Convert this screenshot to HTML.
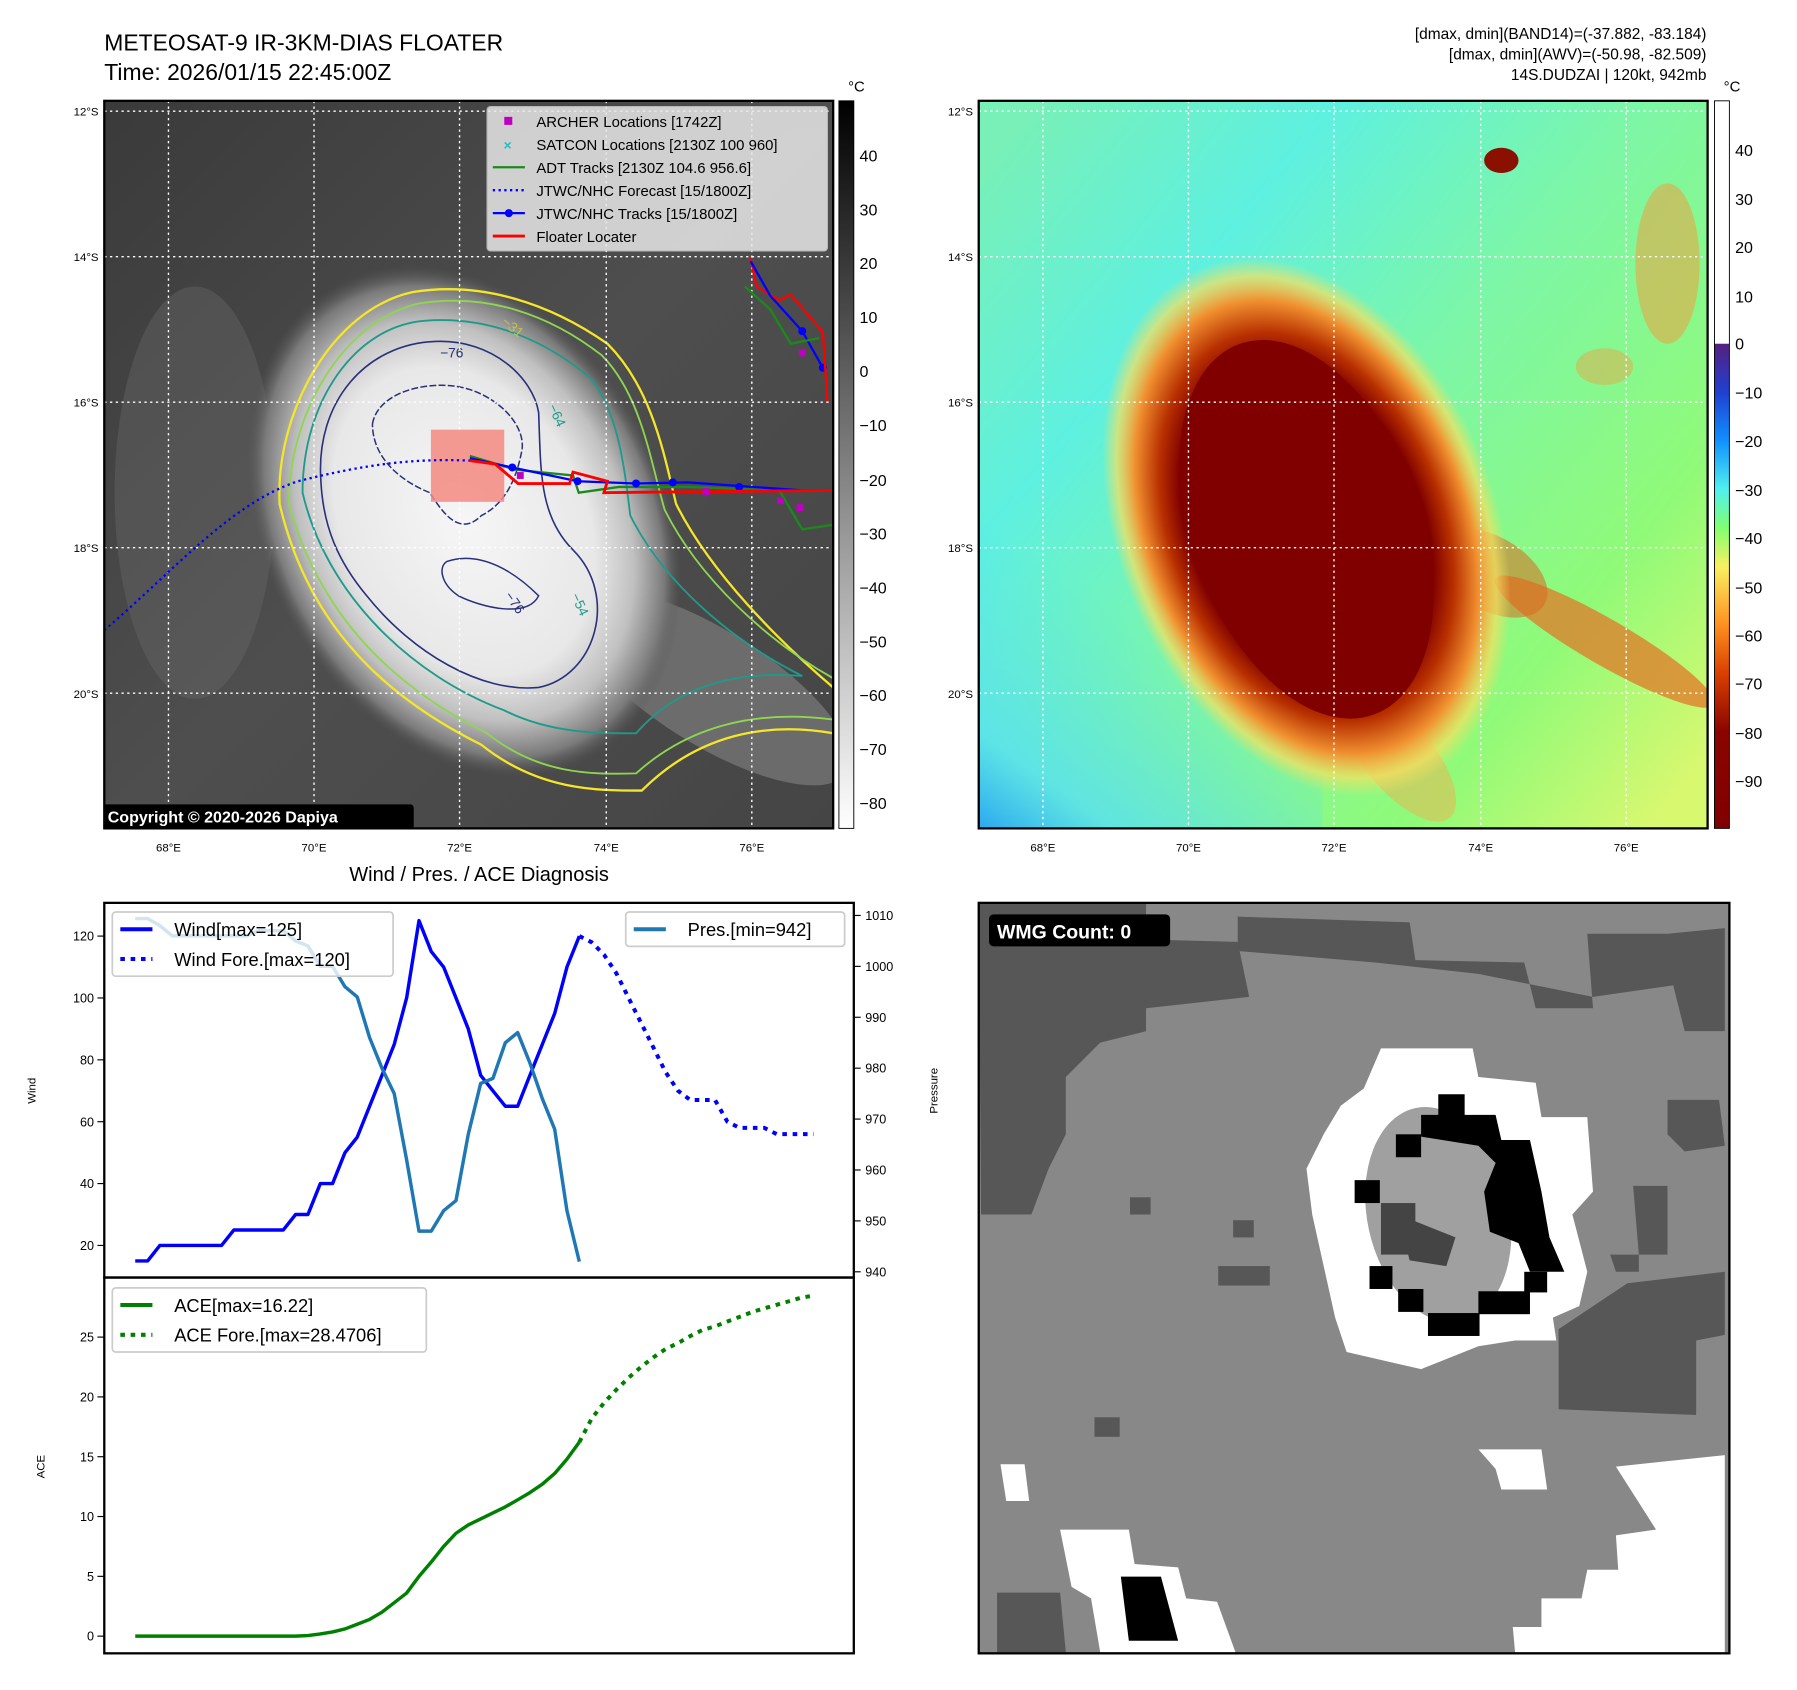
<!DOCTYPE html>
<html><head><meta charset="utf-8"><style>
html,body{margin:0;padding:0;background:#fff;}
svg{display:block;font-family:"Liberation Sans","DejaVu Sans",sans-serif;}
</style></head><body>
<svg width="1797" height="1690" viewBox="0 0 1568 1475" preserveAspectRatio="none" xmlns="http://www.w3.org/2000/svg">
<defs>
<radialGradient id="cloud" cx="0.5" cy="0.5" r="0.5">
<stop offset="0" stop-color="#f6f6f6"/><stop offset="0.6" stop-color="#e8e8e8"/><stop offset="0.78" stop-color="#c0c0c0"/><stop offset="0.92" stop-color="#7a7a7a"/><stop offset="1" stop-color="#555" stop-opacity="0"/>
</radialGradient>
<linearGradient id="bgIR" x1="0" y1="0" x2="1" y2="1">
<stop offset="0" stop-color="#3a3a3a"/><stop offset="0.5" stop-color="#4e4e4e"/><stop offset="1" stop-color="#454545"/>
</linearGradient>
<linearGradient id="bgJet" x1="0" y1="0.1" x2="1" y2="0.9">
<stop offset="0" stop-color="#78f0b8"/><stop offset="0.25" stop-color="#5ef0e0"/><stop offset="0.5" stop-color="#7cf6a8"/><stop offset="0.8" stop-color="#90fa78"/><stop offset="1" stop-color="#d8f870"/>
</linearGradient>
<linearGradient id="bgJet2" x1="0" y1="1" x2="0.4" y2="0.4">
<stop offset="0" stop-color="#2aa8f0"/><stop offset="0.3" stop-color="#58e0f0" stop-opacity="0.8"/><stop offset="1" stop-color="#58e0f0" stop-opacity="0"/>
</linearGradient>
<radialGradient id="core" cx="0.5" cy="0.5" r="0.5">
<stop offset="0" stop-color="#800000"/><stop offset="0.62" stop-color="#800000"/><stop offset="0.72" stop-color="#b83000"/><stop offset="0.84" stop-color="#f09030"/><stop offset="0.93" stop-color="#f8e060" stop-opacity="0.7"/><stop offset="1" stop-color="#f8e060" stop-opacity="0"/>
</radialGradient>
<linearGradient id="cbGray" x1="0" y1="0" x2="0" y2="1"><stop offset="0" stop-color="#000"/><stop offset="1" stop-color="#fff"/></linearGradient>
<linearGradient id="cbJet" x1="0" y1="0" x2="0" y2="1">
<stop offset="0" stop-color="#55207f"/><stop offset="0.1" stop-color="#2040d0"/><stop offset="0.2" stop-color="#1090ff"/><stop offset="0.3" stop-color="#50f0f0"/><stop offset="0.38" stop-color="#80ff70"/><stop offset="0.46" stop-color="#f8f060"/><stop offset="0.58" stop-color="#ff9020"/><stop offset="0.68" stop-color="#d84000"/><stop offset="0.8" stop-color="#8a0500"/><stop offset="1" stop-color="#800000"/>
</linearGradient>
<clipPath id="clipL"><rect x="91" y="88" width="636" height="635"/></clipPath>
<clipPath id="clipR"><rect x="854" y="88" width="636" height="635"/></clipPath>
<clipPath id="clipW"><rect x="854" y="788" width="655" height="655"/></clipPath>
</defs>

<text x="91" y="44" font-size="20">METEOSAT-9 IR-3KM-DIAS FLOATER</text>
<text x="91" y="70" font-size="20">Time: 2026/01/15 22:45:00Z</text>
<g font-size="13.5" text-anchor="end">
<text x="1489" y="34">[dmax, dmin](BAND14)=(-37.882, -83.184)</text>
<text x="1489" y="52">[dmax, dmin](AWV)=(-50.98, -82.509)</text>
<text x="1489" y="70">14S.DUDZAI | 120kt, 942mb</text>
</g>

<!-- LEFT MAP -->
<g clip-path="url(#clipL)">
<rect x="91" y="88" width="636" height="635" fill="url(#bgIR)"/>
<ellipse cx="170" cy="430" rx="70" ry="180" fill="#6a6a6a" opacity="0.4"/>
<ellipse cx="620" cy="600" rx="140" ry="50" fill="#909090" opacity="0.5" transform="rotate(32 620 600)"/>
<ellipse cx="405" cy="455" rx="175" ry="235" fill="url(#cloud)" transform="rotate(-28 405 455)"/>
<path d="M244,440 C240,360 290,270 360,255 C420,245 480,265 530,300 C570,340 580,400 590,440 C620,500 680,560 727,600 L727,640 C670,630 610,640 560,690 C520,690 470,690 420,650 C340,610 270,550 244,440 Z" fill="none" stroke="#f5e62a" stroke-width="2"/>
<path d="M252,440 C252,360 300,280 365,265 C425,255 480,275 525,310 C560,345 568,405 580,445 C610,505 670,560 727,592 L727,628 C665,620 605,630 555,675 C515,676 470,676 425,640 C345,600 280,540 252,440 Z" fill="none" stroke="#8fd650" stroke-width="1.6"/>
<path d="M264,430 C264,350 310,285 370,280 C430,275 480,300 515,330 C540,360 545,410 550,450 C580,510 640,560 700,590 C640,585 590,600 555,640 C520,640 480,640 440,620 C360,590 285,520 264,430 Z" fill="none" stroke="#1f9a8a" stroke-width="1.6"/>
<path d="M280,420 C275,350 320,300 380,298 C430,296 465,330 470,360 C472,410 470,450 500,480 C540,520 520,590 470,600 C420,605 360,570 320,520 C295,490 282,460 280,420 Z" fill="none" stroke="#2a2f7a" stroke-width="1.4"/>
<path d="M325,370 C330,340 380,330 410,340 C440,350 460,375 455,395 C450,420 440,440 420,450 C400,470 385,445 375,430 C350,420 325,400 325,370 Z" fill="none" stroke="#2a2f7a" stroke-width="1.3" stroke-dasharray="6 2"/>
<path d="M390,490 C420,480 450,500 470,520 C460,540 420,530 400,520 C385,510 382,495 390,490 Z" fill="none" stroke="#2a2f7a" stroke-width="1.3"/>
<g font-size="12" fill="#2a2f7a"><text x="384" y="312">−76</text><text x="440" y="520" transform="rotate(55 440 520)">−76</text></g>
<g font-size="12" fill="#1f9a8a"><text x="478" y="355" transform="rotate(65 478 355)">−64</text><text x="498" y="520" transform="rotate(65 498 520)">−54</text></g>
<text x="437" y="282" font-size="12" fill="#c8c040" transform="rotate(40 437 282)">−31</text>
<g stroke="#fff" stroke-width="1.2" stroke-dasharray="2 3">
<line x1="91" y1="97" x2="727" y2="97"/><line x1="91" y1="224" x2="727" y2="224"/><line x1="91" y1="351" x2="727" y2="351"/><line x1="91" y1="478" x2="727" y2="478"/><line x1="91" y1="605" x2="727" y2="605"/>
<line x1="147" y1="88" x2="147" y2="723"/><line x1="274" y1="88" x2="274" y2="723"/><line x1="401" y1="88" x2="401" y2="723"/><line x1="529" y1="88" x2="529" y2="723"/><line x1="656" y1="88" x2="656" y2="723"/>
</g>
<rect x="376" y="375" width="64" height="63" fill="#f48a80" opacity="0.85"/>
<path d="M91,550 C150,500 200,440 260,420 C320,405 360,400 410,402" fill="none" stroke="#0000ff" stroke-width="2" stroke-dasharray="2 3"/>
<path d="M410,398 L450,410 L500,415 L505,430 L540,425 L600,425 L680,428 L700,462 L727,458" fill="none" stroke="#1a8a1a" stroke-width="2"/>
<path d="M410,400 L447,408 L504,420 L555,422 L600,421 L700,428 L727,428" fill="none" stroke="#0000ff" stroke-width="2"/>
<g fill="#0000ff"><circle cx="447" cy="408" r="3.5"/><circle cx="504" cy="420" r="3.5"/><circle cx="555" cy="422" r="3.5"/><circle cx="587" cy="421" r="3.5"/><circle cx="645" cy="425" r="3.5"/><circle cx="700" cy="289" r="3.5"/><circle cx="718" cy="321" r="3.5"/></g>
<path d="M410,402 L432,405 L452,422 L497,422 L500,412 L530,420 L527,430 L727,428" fill="none" stroke="#ff0000" stroke-width="2.5"/>
<path d="M655,225 L660,250 L680,262 L690,257 L718,290 L722,350" fill="none" stroke="#ff0000" stroke-width="2"/>
<path d="M655,228 L672,258 L700,289 L718,321" fill="none" stroke="#0000ff" stroke-width="2"/>
<path d="M650,250 L672,270 L690,300 L715,295" fill="none" stroke="#1a8a1a" stroke-width="2"/>
<g fill="#c000c0"><rect x="451" y="412" width="6" height="6"/><rect x="613" y="426" width="6" height="6"/><rect x="678" y="434" width="6" height="6"/><rect x="695" y="440" width="6" height="6"/><rect x="697" y="305" width="6" height="6"/></g>
<g>
<rect x="425" y="93" width="297" height="126" rx="3" fill="#e8e8e8" opacity="0.85" stroke="#ccc"/>
<rect x="440" y="102" width="7" height="7" fill="#c000c0"/>
<text x="443" y="131" font-size="12" fill="#20c0c0" font-weight="bold" text-anchor="middle">×</text>
<line x1="430" y1="146" x2="458" y2="146" stroke="#1a8a1a" stroke-width="2"/>
<line x1="430" y1="166" x2="458" y2="166" stroke="#0000ff" stroke-width="2" stroke-dasharray="2 3"/>
<line x1="430" y1="186" x2="458" y2="186" stroke="#0000ff" stroke-width="2"/><circle cx="444" cy="186" r="3.5" fill="#0000ff"/>
<line x1="430" y1="206" x2="458" y2="206" stroke="#ff0000" stroke-width="2.5"/>
<g font-size="13" fill="#000">
<text x="468" y="111">ARCHER Locations [1742Z]</text>
<text x="468" y="131">SATCON Locations [2130Z 100 960]</text>
<text x="468" y="151">ADT Tracks [2130Z 104.6 956.6]</text>
<text x="468" y="171">JTWC/NHC Forecast [15/1800Z]</text>
<text x="468" y="191">JTWC/NHC Tracks [15/1800Z]</text>
<text x="468" y="211">Floater Locater</text>
</g>
</g>
<rect x="89" y="702" width="272" height="22" rx="3" fill="#000"/>
<text x="94" y="718" font-size="14" font-weight="bold" fill="#fff">Copyright © 2020-2026 Dapiya</text>
</g>
<rect x="91" y="88" width="636" height="635" fill="none" stroke="#000" stroke-width="2"/>

<g font-size="10" text-anchor="end">
<text x="86" y="101">12°S</text><text x="86" y="228">14°S</text><text x="86" y="355">16°S</text><text x="86" y="482">18°S</text><text x="86" y="609">20°S</text>
</g>
<g font-size="10" text-anchor="middle">
<text x="147" y="743">68°E</text><text x="274" y="743">70°E</text><text x="401" y="743">72°E</text><text x="529" y="743">74°E</text><text x="656" y="743">76°E</text>
</g>
<rect x="732" y="88" width="13" height="635" fill="url(#cbGray)" stroke="#000" stroke-width="0.8"/>
<text x="740" y="80" font-size="13">°C</text>
<g font-size="14">
<text x="750" y="141">40</text><text x="750" y="188">30</text><text x="750" y="235">20</text><text x="750" y="282">10</text><text x="750" y="329">0</text><text x="750" y="376">−10</text><text x="750" y="424">−20</text><text x="750" y="471">−30</text><text x="750" y="518">−40</text><text x="750" y="565">−50</text><text x="750" y="612">−60</text><text x="750" y="659">−70</text><text x="750" y="706">−80</text>
</g>

<!-- RIGHT MAP -->
<g clip-path="url(#clipR)">
<rect x="854" y="88" width="636" height="635" fill="url(#bgJet)"/>
<rect x="854" y="400" width="300" height="323" fill="url(#bgJet2)"/>
<ellipse cx="1455" cy="230" rx="28" ry="70" fill="#f0a040" opacity="0.55"/>
<ellipse cx="1400" cy="320" rx="25" ry="16" fill="#f0a040" opacity="0.45"/>
<ellipse cx="1310" cy="140" rx="15" ry="11" fill="#8a1000"/>
<ellipse cx="1220" cy="660" rx="70" ry="30" fill="#f0b050" opacity="0.5" transform="rotate(50 1220 660)"/>
<ellipse cx="1400" cy="560" rx="110" ry="20" fill="#e07828" opacity="0.75" transform="rotate(30 1400 560)"/>
<ellipse cx="1300" cy="500" rx="55" ry="32" fill="#d86a20" opacity="0.55" transform="rotate(30 1300 500)"/>
<ellipse cx="1140" cy="460" rx="165" ry="245" fill="url(#core)" transform="rotate(-22 1140 460)"/>
<ellipse cx="1140" cy="462" rx="100" ry="172" fill="#800000" transform="rotate(-20 1140 462)"/>
<g stroke="#fff" stroke-width="1.2" stroke-dasharray="2 3">
<line x1="854" y1="97" x2="1490" y2="97"/><line x1="854" y1="224" x2="1490" y2="224"/><line x1="854" y1="351" x2="1490" y2="351"/><line x1="854" y1="478" x2="1490" y2="478"/><line x1="854" y1="605" x2="1490" y2="605"/>
<line x1="910" y1="88" x2="910" y2="723"/><line x1="1037" y1="88" x2="1037" y2="723"/><line x1="1164" y1="88" x2="1164" y2="723"/><line x1="1292" y1="88" x2="1292" y2="723"/><line x1="1419" y1="88" x2="1419" y2="723"/>
</g>
</g>
<rect x="854" y="88" width="636" height="635" fill="none" stroke="#000" stroke-width="2"/>
<g font-size="10" text-anchor="end">
<text x="849" y="101">12°S</text><text x="849" y="228">14°S</text><text x="849" y="355">16°S</text><text x="849" y="482">18°S</text><text x="849" y="609">20°S</text>
</g>
<g font-size="10" text-anchor="middle">
<text x="910" y="743">68°E</text><text x="1037" y="743">70°E</text><text x="1164" y="743">72°E</text><text x="1292" y="743">74°E</text><text x="1419" y="743">76°E</text>
</g>
<rect x="1496" y="88" width="13" height="212" fill="#fff"/>
<rect x="1496" y="300" width="13" height="423" fill="url(#cbJet)"/>
<rect x="1496" y="88" width="13" height="635" fill="none" stroke="#000" stroke-width="0.8"/>
<text x="1504" y="80" font-size="13">°C</text>
<g font-size="14">
<text x="1514" y="136">40</text><text x="1514" y="179">30</text><text x="1514" y="221">20</text><text x="1514" y="264">10</text><text x="1514" y="305">0</text><text x="1514" y="348">−10</text><text x="1514" y="390">−20</text><text x="1514" y="433">−30</text><text x="1514" y="475">−40</text><text x="1514" y="518">−50</text><text x="1514" y="560">−60</text><text x="1514" y="602">−70</text><text x="1514" y="645">−80</text><text x="1514" y="687">−90</text>
</g>

<text x="418" y="769" font-size="17.5" text-anchor="middle">Wind / Pres. / ACE Diagnosis</text>
<g id="chart"></g>

<!-- WMG -->
<g clip-path="url(#clipW)">
<rect x="854" y="788" width="655" height="655" fill="#888"/>
<g fill="#575757">
<polygon points="854,788 1000,788 1000,820 1080,822 1090,870 1000,880 1000,900 960,910 930,940 930,990 915,1020 900,1060 856,1060"/>
<polygon points="1080,800 1230,805 1235,838 1330,840 1340,880 1390,880 1385,815 1455,815 1505,810 1505,900 1470,900 1460,860 1390,870 1290,850 1200,840 1080,830"/>
<polygon points="1360,1160 1420,1120 1505,1110 1505,1165 1480,1170 1480,1235 1360,1230"/>
<polygon points="870,1390 925,1390 930,1442 870,1442"/>
<rect x="986" y="1045" width="18" height="15"/><rect x="1076" y="1065" width="18" height="15"/><rect x="1063" y="1105" width="45" height="17"/><rect x="955" y="1237" width="22" height="17"/>
<polygon points="1455,960 1500,960 1505,1000 1470,1005 1455,990"/><polygon points="1425,1035 1455,1035 1455,1095 1430,1095"/><polygon points="1405,1095 1430,1095 1430,1110 1410,1110"/>
</g>
<polygon fill="#fff" points="1205,915 1285,915 1290,940 1340,945 1345,975 1385,975 1390,1040 1372,1060 1385,1110 1378,1140 1355,1150 1358,1170 1322,1170 1290,1175 1240,1195 1175,1180 1165,1150 1145,1060 1140,1020 1155,990 1170,965 1190,950"/>
<ellipse cx="1255" cy="1060" rx="62" ry="95" fill="#a0a0a0" transform="rotate(-12 1255 1060)"/>
<g fill="#000">
<polygon points="1255,955 1278,955 1278,973 1305,973 1310,995 1335,995 1345,1040 1352,1080 1365,1110 1335,1110 1325,1085 1300,1075 1295,1040 1305,1015 1290,1000 1240,992 1240,973 1255,973"/>
<rect x="1218" y="990" width="22" height="20"/><rect x="1182" y="1030" width="22" height="20"/><rect x="1195" y="1105" width="20" height="20"/><rect x="1220" y="1125" width="22" height="20"/><rect x="1246" y="1146" width="45" height="20"/><rect x="1290" y="1127" width="45" height="20"/><rect x="1330" y="1110" width="20" height="18"/>
</g>
<g fill="#444"><rect x="1205" y="1050" width="30" height="45"/><polygon points="1220,1060 1270,1080 1262,1105 1230,1100"/></g>
<g fill="#fff">
<polygon points="873,1278 894,1278 898,1310 878,1310"/>
<polygon points="925,1335 985,1335 990,1365 1028,1368 1035,1395 1062,1398 1078,1442 960,1442 952,1395 935,1385"/>
<polygon points="1290,1265 1345,1265 1350,1300 1310,1300 1305,1282"/>
<polygon points="1410,1280 1505,1270 1505,1442 1322,1442 1320,1420 1345,1420 1345,1395 1380,1395 1385,1370 1412,1370 1410,1340 1445,1335"/>
</g>
<polygon points="978,1376 1013,1376 1028,1432 985,1432" fill="#000"/>
</g>
<rect x="854" y="788" width="655" height="655" fill="none" stroke="#000" stroke-width="2"/>
<rect x="863" y="798" width="158" height="28" rx="4" fill="#000"/>
<text x="870" y="819" font-size="17" font-weight="bold" fill="#fff">WMG Count: 0</text>
</svg>

<script>
const windObs = [15,15,20,20,20,20,20,20,25,25,25,25,25,30,30,40,40,50,55,65,75,85,100,125,115,110,100,90,75,70,65,65,75,85,95,110,120];
const windFore = [120,118,114,108,100,92,84,76,70,67,67,67,60,58,58,58,56,56,56,56];
const presObs = [1009.4,1009.4,1008,1006,1006,1006,1006,1006,1006,1006,1007,1007,1007,1005,1004,1000,1000,996,994,986,980,975,962,948,948,952,954,967,977,978,985,987,981,974,968,952,942];
const aceObs = [0,0,0,0,0,0,0,0,0,0,0,0,0,0,0.05,0.18,0.35,0.6,1.0,1.4,2.0,2.8,3.6,5.0,6.2,7.5,8.6,9.3,9.8,10.3,10.8,11.4,12.0,12.7,13.6,14.8,16.22];
const aceFore = [16.22,18.2,19.5,20.6,21.6,22.5,23.3,24.0,24.5,25.1,25.6,25.9,26.3,26.7,27.1,27.4,27.7,28.0,28.3,28.47];
const windTicks = [20,40,60,80,100,120];
const presTicks = [940,950,960,970,980,990,1000,1010];
const aceTicks = [0,5,10,15,20,25];

const NS = 'http://www.w3.org/2000/svg';
const chart = document.getElementById('chart');
const nTotal = windObs.length - 1 + windFore.length - 1;
function xS(i){ return 118 + i * (710 - 118) / nTotal; }
function yW(w){ return 1087 - (w - 20) * 2.7; }
function yP(p){ return 1110 - (p - 940) * 4.443; }
function yA(a){ return 1428 - a * 10.44; }
function mk(tag, attrs){ const e = document.createElementNS(NS, tag); for (const k in attrs) e.setAttribute(k, attrs[k]); chart.appendChild(e); return e; }
function pathFrom(vals, off, yf){ return vals.map((v,i)=>(i?'L':'M')+xS(i+off).toFixed(1)+','+yf(v).toFixed(1)).join(' '); }

let b1 = mk('rect',{x:91,y:788,width:654,height:327,fill:'none',stroke:'#000','stroke-width':2});


let b2 = mk('rect',{x:91,y:1115,width:654,height:328,fill:'none',stroke:'#000','stroke-width':2});



windTicks.forEach(t=>{
  let l = mk('line',{x1:85,x2:91,y1:yW(t),y2:yW(t),stroke:'#000','stroke-width':1});
  
  
  let tx = mk('text',{x:82,y:yW(t)+4,'font-size':11,'text-anchor':'end'});
  tx.textContent = t;
  
  
});
presTicks.forEach(t=>{
  let l = mk('line',{x1:745,x2:751,y1:yP(t),y2:yP(t),stroke:'#000','stroke-width':1});
  
  
  let tx = mk('text',{x:755,y:yP(t)+4,'font-size':11});
  tx.textContent = t;
  
  
});
aceTicks.forEach(t=>{
  let l = mk('line',{x1:85,x2:91,y1:yA(t),y2:yA(t),stroke:'#000','stroke-width':1});
  
  
  let tx = mk('text',{x:82,y:yA(t)+4,'font-size':11,'text-anchor':'end'});
  tx.textContent = t;
  
  
});
let yl1 = mk('text',{x:31,y:952,'font-size':10,'text-anchor':'middle',transform:'rotate(-90 31 952)'});
yl1.textContent = 'Wind';


let yl2 = mk('text',{x:818,y:952,'font-size':10,'text-anchor':'middle',transform:'rotate(-90 818 952)'});
yl2.textContent = 'Pressure';


let yl3 = mk('text',{x:39,y:1280,'font-size':10,'text-anchor':'middle',transform:'rotate(-90 39 1280)'});
yl3.textContent = 'ACE';



const off = windObs.length - 1;
let pw = mk('path',{d:pathFrom(windObs,0,yW),fill:'none',stroke:'#0000ff','stroke-width':3,'stroke-linejoin':'round'});


let pwf = mk('path',{d:pathFrom(windFore,off,yW),fill:'none',stroke:'#0000ff','stroke-width':3.5,'stroke-dasharray':'4 5'});


let pp = mk('path',{d:pathFrom(presObs,0,yP),fill:'none',stroke:'#1f77b4','stroke-width':3,'stroke-linejoin':'round'});


let pa = mk('path',{d:pathFrom(aceObs,0,yA),fill:'none',stroke:'#008000','stroke-width':3,'stroke-linejoin':'round'});


let paf = mk('path',{d:pathFrom(aceFore,off,yA),fill:'none',stroke:'#008000','stroke-width':3.5,'stroke-dasharray':'4 5'});



function legend(name, x, y, w, h, items){
  let r = mk('rect',{x:x,y:y,width:w,height:h,rx:3,fill:'#fff','fill-opacity':0.8,stroke:'#ccc','stroke-width':1.5});
  
  
  items.forEach((it,k)=>{
    const yy = y + 15 + k*26;
    let l = mk('line',{x1:x+7,x2:x+35,y1:yy,y2:yy,stroke:it[1],'stroke-width':3.5,'stroke-dasharray':it[2]});
    
    
    let t = mk('text',{x:x+54,y:yy+6,'font-size':16});
    t.textContent = it[0];
    
    
  });
}
legend('wind-legend', 98, 796, 245, 56, [['Wind[max=125]','#0000ff','none'],['Wind Fore.[max=120]','#0000ff','4 5']]);
legend('pressure-legend', 546, 796, 191, 30, [['Pres.[min=942]','#1f77b4','none']]);
legend('ace-legend', 98, 1124, 274, 56, [['ACE[max=16.22]','#008000','none'],['ACE Fore.[max=28.4706]','#008000','4 5']]);
</script>
</body></html>
